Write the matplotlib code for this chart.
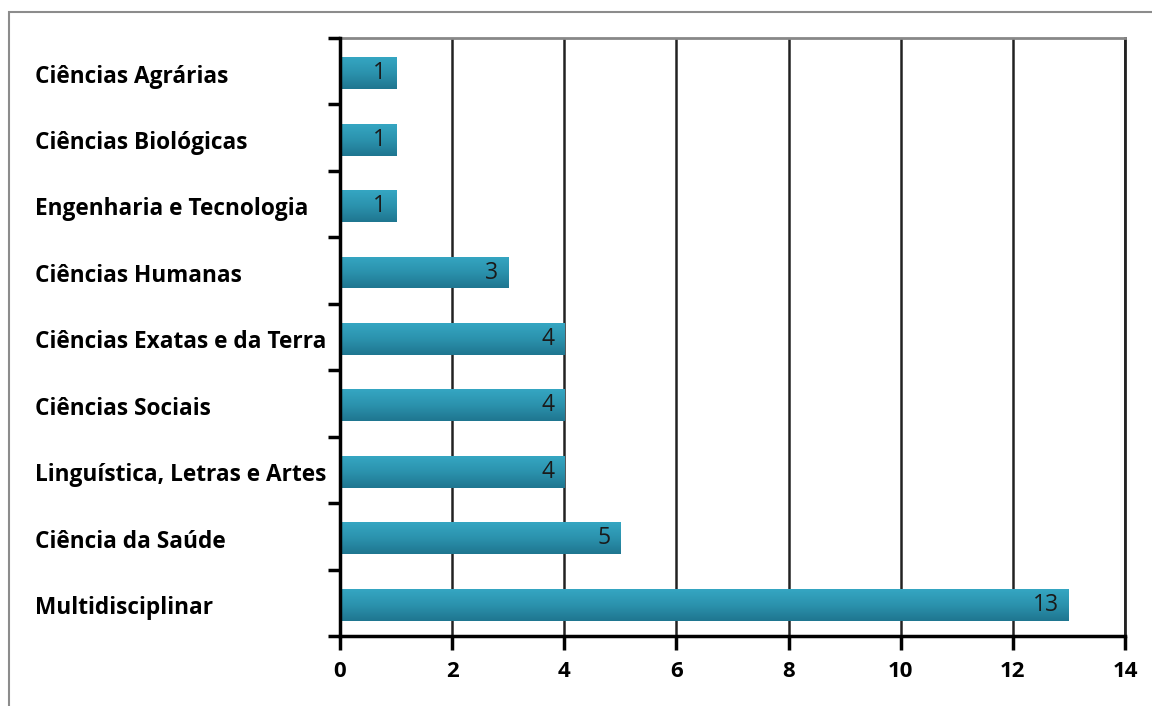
import matplotlib
matplotlib.use("Agg")
import matplotlib.pyplot as plt
import matplotlib.transforms as mtransforms
from matplotlib.patches import Rectangle
from matplotlib.colors import LinearSegmentedColormap
import numpy as np

categories = ["Ciências Agrárias", "Ciências Biológicas", "Engenharia e Tecnologia",
              "Ciências Humanas", "Ciências Exatas e da Terra", "Ciências Sociais",
              "Linguística, Letras e Artes", "Ciência da Saúde", "Multidisciplinar"]
values = [1, 1, 1, 3, 4, 4, 4, 5, 13]
xticks = [0, 2, 4, 6, 8, 10, 12, 14]

FONT = ['Open Sans', 'DejaVu Sans']

fig = plt.figure(figsize=(11.52, 7.06), dpi=100)
fig.patch.set_facecolor('white')
# outer chart border (only top/left visible in reference)
fig.add_artist(Rectangle((9/1152, -0.1), 1.2, (706-12)/706 + 0.1, transform=fig.transFigure,
                         fill=False, edgecolor='#8c8c8c', linewidth=1.5))

ax = fig.add_axes([340/1152, 1-636/706, (1125-340)/1152, (636-38)/706])

n = len(categories)
ypos = np.arange(n)
bars = ax.barh(ypos + 0.03, values, height=0.48, color='#2a8ca8', edgecolor='none', zorder=3)

# gradient overlay
grad = np.linspace(0, 1, 64).reshape(-1, 1)
cmap = LinearSegmentedColormap.from_list('g', ['#35a6c2', '#2b92ad', '#1f7690'])
for b in bars:
    x0, y0 = b.get_x(), b.get_y()
    w, h = b.get_width(), b.get_height()
    im = ax.imshow(grad, extent=(x0, x0 + w, y0 + h, y0), cmap=cmap, aspect='auto',
                   origin='upper', zorder=3.5, interpolation='bicubic')
    im.set_clip_path(b)

ax.set_xlim(0, 14)
ax.set_ylim(n - 0.5, -0.5)

for b, v in zip(bars, values):
    ax.text(v - 0.18, b.get_y() + b.get_height()/2, str(v), ha='right', va='center',
            fontsize=16.5, color='#1a1a1a', family=FONT, zorder=5)

ax.set_xticks(xticks)
ax.set_xticklabels([str(t) for t in xticks], fontsize=16, fontweight='bold', family=FONT)
ax.set_yticks(np.arange(n + 1) - 0.5)
ax.set_yticklabels([])
ax.tick_params(axis='x', direction='out', length=10, width=2.5, pad=8, color='black')
ax.tick_params(axis='y', direction='out', length=9, width=2.5, color='black')

ax.grid(axis='x', color='#222222', linewidth=1.8, zorder=1)
ax.set_axisbelow(True)

for s in ['left', 'bottom']:
    ax.spines[s].set_linewidth(2.5)
    ax.spines[s].set_color('black')
    ax.spines[s].set_zorder(6)
ax.spines['top'].set_color('#888888')
ax.spines['top'].set_linewidth(2)
ax.spines['right'].set_color('#222222')
ax.spines['right'].set_linewidth(2)

trans = mtransforms.blended_transform_factory(fig.transFigure, ax.transData)
for i, c in enumerate(categories):
    ax.text(35/1152, i + 0.08, c, transform=trans, ha='left', va='center', fontsize=16.3,
            fontweight='bold', family=FONT, color='black')

fig.savefig('out.png', dpi=100, facecolor='white')
